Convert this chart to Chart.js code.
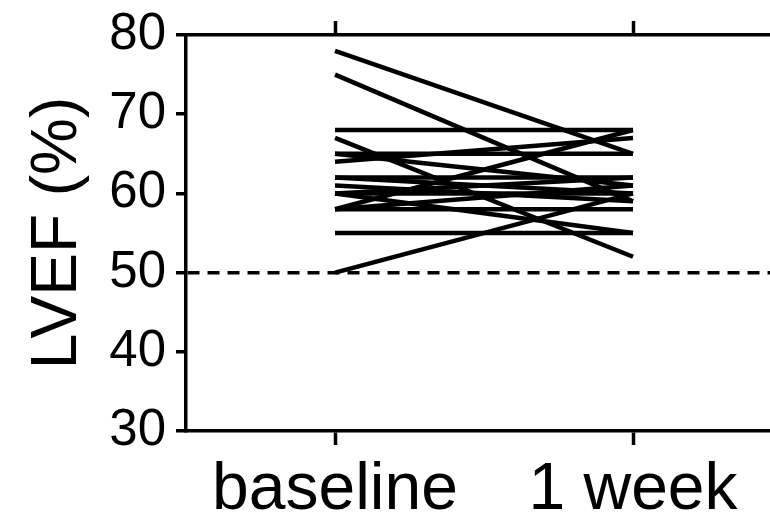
<!DOCTYPE html>
<html>
<head>
<meta charset="utf-8">
<script src="https://cdn.jsdelivr.net/npm/chart.js@4/dist/chart.umd.min.js"></script>
<style>
    html, body { margin: 0; padding: 0; overflow: hidden; background: #fff; }
    #wrap { width: 770px; height: 513px; overflow: hidden; }
</style>
</head>
<body>
<div id="wrap"><canvas id="lvefChart" width="782" height="513"></canvas></div>
<script>
// 各时间点
const timepoints = ['baseline', '1 week'];
// 每位患者的 LVEF (%)，同一下标为同一患者
const baselineLVEF = [78, 75, 68, 67, 65, 64, 65, 62, 62, 60, 60, 60, 61, 58, 58, 58, 55, 50];
const weekLVEF     = [65, 59, 68, 52, 65, 67, 61, 62, 60, 62, 60, 55, 59, 68, 58, 61, 55, 60];
// 参考线
const cutoffLVEF = 50;

const FONT = "'Liberation Sans', Arial, sans-serif";

const datasets = baselineLVEF.map((b, i) => ({
    label: 'patient ' + (i + 1),
    data: [b, weekLVEF[i]],
    borderColor: '#000',
    borderWidth: 4.5,
    pointRadius: 0,
    fill: false,
    tension: 0
}));

const ctx = document.getElementById('lvefChart').getContext('2d');
new Chart(ctx, {
    type: 'line',
    data: { labels: timepoints, datasets: datasets },
    options: {
        responsive: false,
        animation: false,
        layout: { padding: 0 },
        plugins: { legend: { display: false }, tooltip: { enabled: false } },
        scales: {
            x: {
                type: 'category',
                position: 'bottom',
                offset: true,
                grid: { offset: false, drawOnChartArea: false, tickLength: 14, tickColor: '#000', tickWidth: 3.5 },
                border: { color: '#000', width: 3.5 },
                ticks: { color: '#000', font: { family: FONT, size: 66 }, padding: 6, maxRotation: 0 },
                afterFit: s => { s.height = 82; }
            },
            xTop: {
                type: 'category',
                position: 'top',
                offset: true,
                grid: { offset: false, drawOnChartArea: false, tickLength: 14, tickColor: '#000', tickWidth: 3.5 },
                border: { color: '#000', width: 3.5 },
                ticks: { display: false },
                afterFit: s => { s.height = 35; }
            },
            y: {
                min: 30,
                max: 80,
                ticks: { stepSize: 10, color: '#000', font: { family: FONT, size: 51 }, padding: 10 },
                grid: {
                    color: c => (c.tick && c.tick.value === cutoffLVEF) ? '#000' : 'rgba(0,0,0,0)',
                    lineWidth: 3.5,
                    tickLength: 10,
                    tickColor: '#000',
                    tickWidth: 3.5
                },
                border: { color: '#000', width: 3.5, dash: [12, 8] },
                title: {
                    display: true,
                    text: 'LVEF (%)',
                    color: '#000',
                    font: { family: FONT, size: 64, weight: 'normal' },
                    padding: { top: 20, bottom: 0 }
                },
                afterFit: s => {
                    s.width = 186;
                    s.paddingTop = 0;
                    s.paddingBottom = 0;
                }
            }
        }
    }
});
</script>
</body>
</html>
